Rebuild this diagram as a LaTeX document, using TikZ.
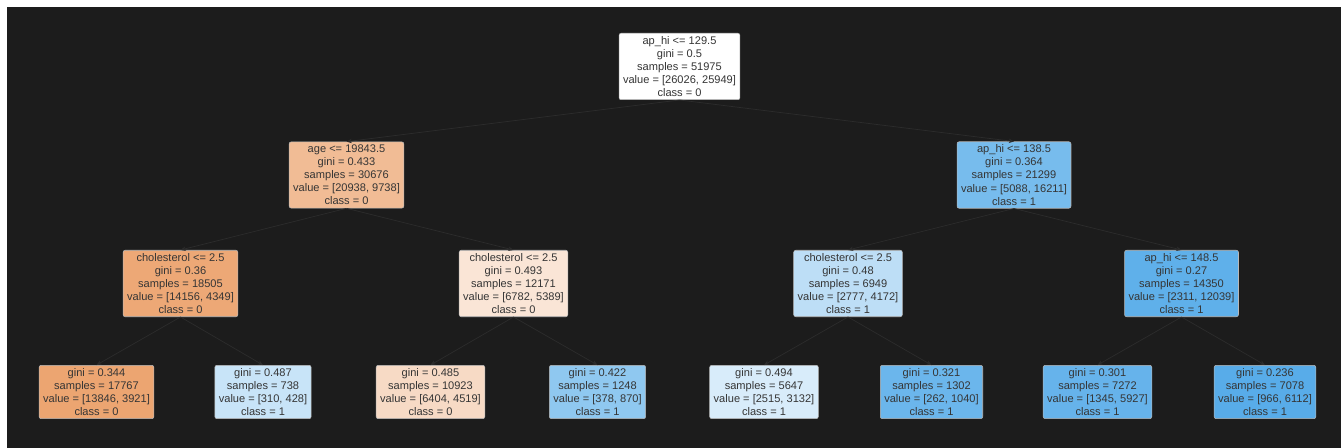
\documentclass[tikz,border=0pt]{standalone}
\usepackage{fontspec}
\setmainfont{Liberation Sans}
\usetikzlibrary{arrows.meta}

\definecolor{bgdark}{HTML}{1C1C1C}
\definecolor{edgecol}{HTML}{2C2C2C}
\definecolor{txtcol}{HTML}{353535}
\definecolor{rimcol}{HTML}{B8B8B8}
% node fills (orange = class 0, blue = class 1)
\definecolor{cRoot}{RGB}{255,255,255}
\definecolor{cAge}{RGB}{241,188,149}
\definecolor{cHiB}{RGB}{119,188,237}
\definecolor{cChA}{RGB}{237,168,118}
\definecolor{cChB}{RGB}{250,229,214}
\definecolor{cChC}{RGB}{189,222,246}
\definecolor{cHiC}{RGB}{95,176,234}
\definecolor{cLfA}{RGB}{236,165,113}
\definecolor{cLfB}{RGB}{200,228,248}
\definecolor{cLfC}{RGB}{247,218,197}
\definecolor{cLfD}{RGB}{143,200,240}
\definecolor{cLfE}{RGB}{216,236,250}
\definecolor{cLfF}{RGB}{107,182,236}
\definecolor{cLfG}{RGB}{102,179,235}
\definecolor{cLfH}{RGB}{88,172,233}

\begin{document}
\begin{tikzpicture}[x=0.02cm, y=-0.02cm,
    treenode/.style={draw=rimcol, line width=0.3pt, rounded corners=1.2pt,
      align=center, text=txtcol, inner xsep=0.08cm, inner ysep=0.06cm,
      font=\fontsize{6.3pt}{7.45pt}\selectfont},
    link/.style={edgecol, line width=0.4pt, -{Stealth[length=3pt,width=2.5pt]}}]
    % page and background
    \useasboundingbox (0,0) rectangle (1341,448);
    \fill[white] (0,0) rectangle (1341,448);
    \fill[bgdark] (7,7) rectangle (1341,448);

    % depth 0
    \node[treenode, fill=cRoot] (root) at (679.5,66.5)
      {ap\_hi <= 129.5\\gini = 0.5\\samples = 51975\\value = [26026, 25949]\\class = 0};
    % depth 1
    \node[treenode, fill=cAge] (age) at (346.5,175)
      {age <= 19843.5\\gini = 0.433\\samples = 30676\\value = [20938, 9738]\\class = 0};
    \node[treenode, fill=cHiB] (hiB) at (1014,175)
      {ap\_hi <= 138.5\\gini = 0.364\\samples = 21299\\value = [5088, 16211]\\class = 1};
    % depth 2
    \node[treenode, fill=cChA] (chA) at (180.5,283.5)
      {cholesterol <= 2.5\\gini = 0.36\\samples = 18505\\value = [14156, 4349]\\class = 0};
    \node[treenode, fill=cChB] (chB) at (513.5,283.5)
      {cholesterol <= 2.5\\gini = 0.493\\samples = 12171\\value = [6782, 5389]\\class = 0};
    \node[treenode, fill=cChC] (chC) at (848,283.5)
      {cholesterol <= 2.5\\gini = 0.48\\samples = 6949\\value = [2777, 4172]\\class = 1};
    \node[treenode, fill=cHiC] (hiC) at (1181.5,283.5)
      {ap\_hi <= 148.5\\gini = 0.27\\samples = 14350\\value = [2311, 12039]\\class = 1};
    % depth 3 (leaves)
    \node[treenode, fill=cLfA] (lfA) at (96.5,392)
      {gini = 0.344\\samples = 17767\\value = [13846, 3921]\\class = 0};
    \node[treenode, fill=cLfB] (lfB) at (263,392)
      {gini = 0.487\\samples = 738\\value = [310, 428]\\class = 1};
    \node[treenode, fill=cLfC] (lfC) at (430.5,392)
      {gini = 0.485\\samples = 10923\\value = [6404, 4519]\\class = 0};
    \node[treenode, fill=cLfD] (lfD) at (597.5,392)
      {gini = 0.422\\samples = 1248\\value = [378, 870]\\class = 1};
    \node[treenode, fill=cLfE] (lfE) at (764,392)
      {gini = 0.494\\samples = 5647\\value = [2515, 3132]\\class = 1};
    \node[treenode, fill=cLfF] (lfF) at (931.5,392)
      {gini = 0.321\\samples = 1302\\value = [262, 1040]\\class = 1};
    \node[treenode, fill=cLfG] (lfG) at (1097.5,392)
      {gini = 0.301\\samples = 7272\\value = [1345, 5927]\\class = 1};
    \node[treenode, fill=cLfH] (lfH) at (1265,392)
      {gini = 0.236\\samples = 7078\\value = [966, 6112]\\class = 1};

    % connectors
    \foreach \p/\c in {root/age, root/hiB, age/chA, age/chB, hiB/chC, hiB/hiC,
        chA/lfA, chA/lfB, chB/lfC, chB/lfD, chC/lfE, chC/lfF, hiC/lfG, hiC/lfH}
      \draw[link] (\p.south) -- (\c.north);
\end{tikzpicture}
\end{document}
